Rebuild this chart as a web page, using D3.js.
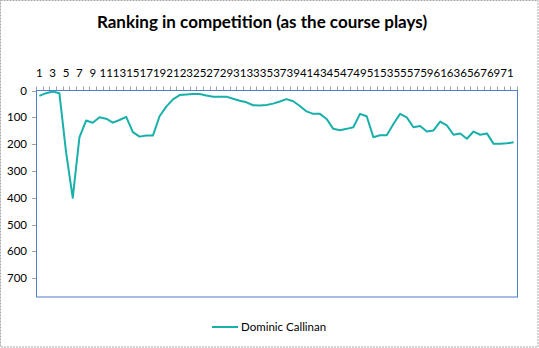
<!DOCTYPE html>
<html>
<head>
<meta charset="utf-8">
<script src="https://cdn.jsdelivr.net/npm/d3@7"></script>
<style>
  html, body { margin: 0; padding: 0; background: #fff; }
  svg { display: block; font-family: Lato, "Open Sans", sans-serif; }
</style>
</head>
<body>
<svg id="chart" width="539" height="348"></svg>
<script>
// Hole-by-hole ranking, holes 1..72
const holes = d3.range(1, 73);
const ranking = [
  20, 10, 4, 10, 230, 400, 175, 112, 120, 100,
  105, 120, 110, 98, 155, 172, 168, 168, 96, 60,
  33, 17, 15, 13, 13, 19, 23, 23, 23, 31,
  38, 44, 55, 56, 54, 49, 41, 32, 40, 58,
  78, 87, 87, 106, 143, 148, 143, 137, 87, 96,
  174, 167, 167, 125, 87, 100, 137, 132, 153, 149,
  116, 130, 165, 160, 180, 153, 165, 160, 199, 199,
  197, 193
];
const seriesName = "Dominic Callinan";
const yTicks = [0, 100, 200, 300, 400, 500, 600, 700];
const xTickLabels = holes.filter(h => h % 2 === 1);

const svg = d3.select("#chart");
const W = 539, H = 348;
const plot = { left: 36, top: 90.5, right: 517, bottom: 297 };
const lineColor = "#19b0aa";

// outer chart border
svg.append("rect")
  .attr("x", 0.5).attr("y", 0.5).attr("width", W - 1.5).attr("height", H - 1.5)
  .attr("fill", "#fff").attr("stroke", "#a6a6a6").attr("stroke-dasharray", "2,1");

// title
svg.append("text")
  .attr("x", 262).attr("y", 28)
  .attr("text-anchor", "middle")
  .attr("font-size", 17).attr("font-weight", "bold").attr("fill", "#000")
  .text("Ranking in competition (as the course plays)");

const x = d3.scaleBand().domain(holes).range([plot.left, plot.right]);
const y = d3.scaleLinear().domain([0, 770]).range([plot.top, plot.bottom]);

// category axis on top, ticks between categories
const xAxis = svg.append("g");
xAxis.selectAll("line.tick")
  .data(holes.concat([73]))
  .join("line")
  .attr("x1", d => Math.round(plot.left + (d - 1) * x.step()) + 0.5)
  .attr("x2", d => Math.round(plot.left + (d - 1) * x.step()) + 0.5)
  .attr("y1", plot.top - 4).attr("y2", plot.top)
  .attr("stroke", "#a0a0a0").attr("stroke-width", 1);
xAxis.selectAll("text")
  .data(xTickLabels)
  .join("text")
  .attr("x", d => x(d) + x.bandwidth() / 2)
  .attr("y", 77)
  .attr("text-anchor", "middle")
  .attr("font-size", 11.5).attr("fill", "#000")
  .text(d => d);

// value axis on the left, reversed (rank 0 at top)
const yAxis = svg.append("g");
yAxis.selectAll("line")
  .data(yTicks)
  .join("line")
  .attr("x1", plot.left - 4).attr("x2", plot.left)
  .attr("y1", d => Math.round(y(d)) + 0.5).attr("y2", d => Math.round(y(d)) + 0.5)
  .attr("stroke", "#a0a0a0");
yAxis.selectAll("text")
  .data(yTicks)
  .join("text")
  .attr("x", 27)
  .attr("y", d => y(d) + 4)
  .attr("text-anchor", "end")
  .attr("font-size", 11.5).attr("fill", "#000")
  .text(d => d);

// plot area border
svg.append("rect")
  .attr("x", plot.left + 0.5).attr("y", plot.top)
  .attr("width", plot.right - plot.left).attr("height", plot.bottom - plot.top)
  .attr("fill", "none").attr("stroke", "#4f7fd0").attr("stroke-width", 1);

// ranking line
const line = d3.line()
  .x((d, i) => x(holes[i]) + x.bandwidth() / 2)
  .y(d => y(d));
svg.append("path")
  .datum(ranking)
  .attr("d", line)
  .attr("fill", "none")
  .attr("stroke", lineColor)
  .attr("stroke-width", 2)
  .attr("stroke-linejoin", "round");

// legend
const lg = svg.append("g");
lg.append("line")
  .attr("x1", 212).attr("x2", 238).attr("y1", 327).attr("y2", 327)
  .attr("stroke", lineColor).attr("stroke-width", 2);
lg.append("text")
  .attr("x", 241).attr("y", 331)
  .attr("font-size", 11.5).attr("fill", "#000")
  .text(seriesName);
</script>
</body>
</html>
